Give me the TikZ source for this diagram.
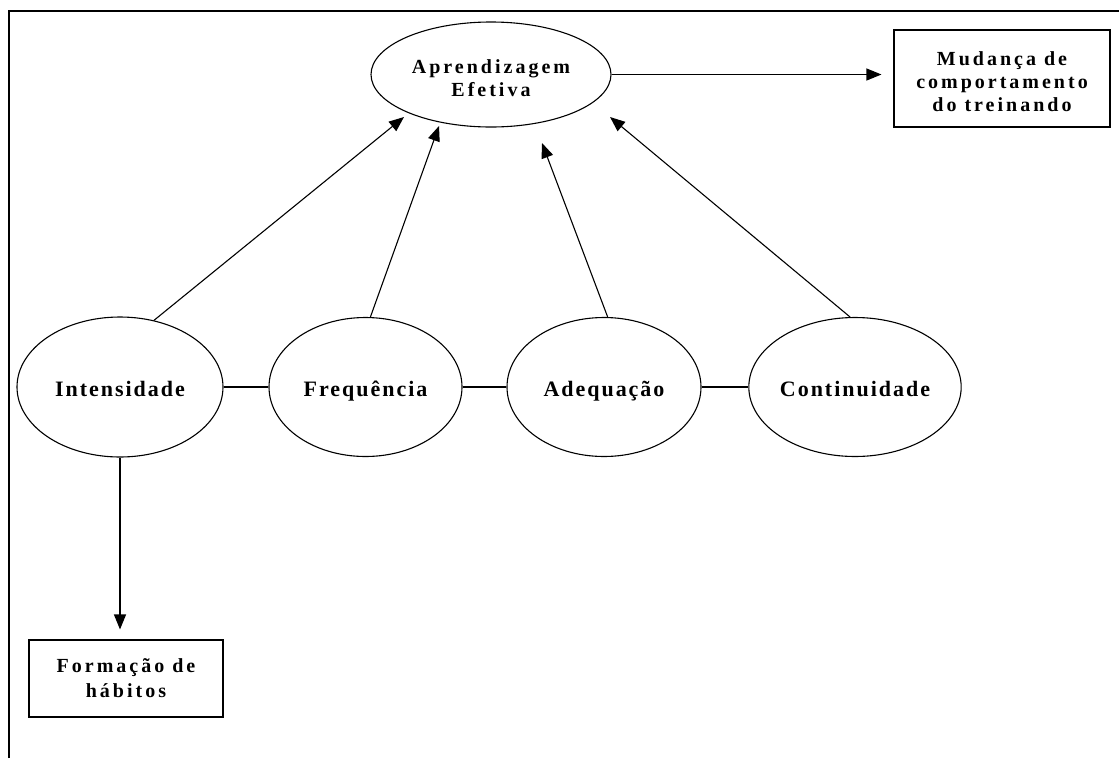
\documentclass[tikz,border=0pt]{standalone}
\usepackage{fontspec}
\setmainfont{Liberation Serif}
\newfontfamily\biglab[LetterSpace=9]{Liberation Serif}
\newfontfamily\smalllab[LetterSpace=15]{Liberation Serif}
\usetikzlibrary{shapes.geometric,arrows.meta}
% stacked lines, baseline on the first line
\newcommand\lines[1]{\begin{tabular}[t]{@{}c@{}}#1\end{tabular}}
\begin{document}
\begin{tikzpicture}[x=1pt,y=-1pt,
  oval/.style={ellipse,draw,line width=1.1pt,inner sep=0pt},
  rowoval/.style={oval,text height=18pt,text depth=0pt,
    font=\biglab\fontsize{22}{26}\selectfont\bfseries},
  topoval/.style={oval,font=\smalllab\fontsize{20}{23}\selectfont\bfseries},
  outbox/.style={draw,line width=1.1pt,inner sep=0pt},
  link/.style={line width=1.1pt},
  flow/.style={line width=1.1pt,-{Triangle[length=15pt,width=12pt]}}]
\useasboundingbox (0,0) rectangle (1119,758);
% page frame: left and top rules only
\draw[line width=1.8pt] (9,758) -- (9,11) -- (1119,11);

% central outcome and the four factors
\node[topoval,minimum width=240pt,minimum height=105pt,text height=0pt,text depth=3pt]
  (apr) at (491,74.5) {\lines{Aprendizagem\\Efetiva}};
\node[rowoval,minimum width=206pt,minimum height=140pt] (int) at (120,387) {Intensidade};
\node[rowoval,minimum width=193pt,minimum height=139pt] (fre) at (365.5,387) {Frequência};
\node[rowoval,minimum width=194pt,minimum height=139pt] (ade) at (604,387) {Adequação};
\node[rowoval,minimum width=194pt,minimum height=139pt] (con) at (855,387) {Continuidade};

% result boxes
\node[outbox,minimum width=216pt,minimum height=97pt,text height=0pt,text depth=26pt,
  font=\smalllab\fontsize{20}{23}\selectfont\bfseries]
  (mud) at (1002,78.5) {\lines{Mudança de\\comportamento\\do treinando}};
\node[outbox,minimum width=194pt,minimum height=77pt,text height=0pt,text depth=13pt,
  font=\smalllab\fontsize{20}{25.5}\selectfont\bfseries]
  (hab) at (126,678.5) {\lines{Formação de\\hábitos}};

% arrow tips stopping short of the outcome ellipse
\coordinate (t1) at (404,117);
\coordinate (t2) at (439,126);
\coordinate (t3) at (542,143);
\coordinate (t4) at (610,117);

% connectors
\draw[link] (int.east) -- (fre.west);
\draw[link] (fre.east) -- (ade.west);
\draw[link] (ade.east) -- (con.west);
\draw[flow] (int.63) -- (t1);
\draw[flow] (fre.86) -- (t2);
\draw[flow] (ade.87) -- (t3);
\draw[flow] (con.94) -- (t4);
\draw[flow,shorten >=12pt] (apr.east) -- (apr.east -| mud.west);
\draw[flow,shorten >=10pt] (int.south) -- (int.south |- hab.north);
\end{tikzpicture}
\end{document}
